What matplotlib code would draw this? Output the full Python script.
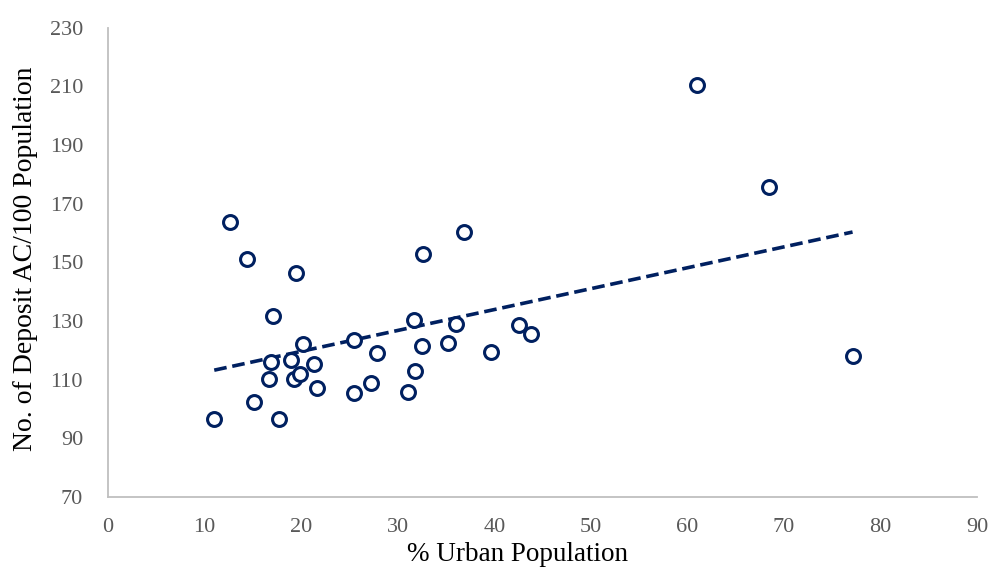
import numpy as np
import matplotlib.pyplot as plt

# % urban population vs deposit accounts per 100 population
urban_pct = [11.0, 15.1, 16.7, 16.9, 17.7, 19.0, 19.3, 19.9, 20.2, 21.3, 21.6,
             12.6, 14.4, 19.5, 17.1,
             36.9, 32.6, 31.7, 36.0, 42.6, 43.8, 25.5, 35.2, 32.5, 27.9, 39.7,
             31.8, 27.2, 25.5, 31.1,
             61.0, 68.4, 77.1]
deposit_ac = [96.5, 102.5, 110.3, 116.2, 96.5, 116.7, 110.2, 111.9, 122.1, 115.4, 107.3,
              163.9, 151.1, 146.3, 131.8,
              160.3, 152.8, 130.4, 128.9, 128.7, 125.5, 123.7, 122.5, 121.6, 119.1, 119.5,
              112.8, 109.0, 105.5, 105.7,
              210.5, 175.7, 118.2]

x_ticks = list(range(0, 91, 10))
y_ticks = list(range(70, 231, 20))

navy = "#002060"
grey = "#595959"

plt.rcParams["font.family"] = ["Liberation Serif", "DejaVu Serif"]

fig = plt.figure(figsize=(9.91, 5.68), dpi=100)
ax = fig.add_axes([0.109, 0.125, 0.877, 0.826])

ax.plot(urban_pct, deposit_ac, linestyle="none", marker="o", markersize=10,
        markerfacecolor="white", markeredgecolor=navy, markeredgewidth=2.2, zorder=3)

# linear trendline over the data range
x = np.array(urban_pct)
slope, intercept = np.polyfit(x, np.array(deposit_ac), 1)
xs = np.array([x.min(), x.max()])
ax.plot(xs, slope * xs + intercept, color=navy, linewidth=2.6,
        linestyle=(0, (3.5, 1.6)), zorder=2)

ax.set_xlim(0, 90)
ax.set_ylim(70, 230)
ax.set_xticks(x_ticks)
ax.set_yticks(y_ticks)

for side in ["top", "right"]:
    ax.spines[side].set_visible(False)
for side in ["left", "bottom"]:
    ax.spines[side].set_color("#bfbfbf")
    ax.spines[side].set_linewidth(1.3)

ax.tick_params(axis="both", length=0, labelsize=16, labelcolor=grey)
ax.tick_params(axis="x", pad=15)
ax.tick_params(axis="y", pad=18)

ax.set_xlabel("% Urban Population", fontsize=19.5, color="black", labelpad=0)
ax.xaxis.set_label_coords(0.471, -0.095)
ax.set_ylabel("No. of Deposit AC/100 Population", fontsize=20, color="black")
ax.yaxis.set_label_coords(-0.081, 0.508)

fig.savefig("out.png", dpi=100)
